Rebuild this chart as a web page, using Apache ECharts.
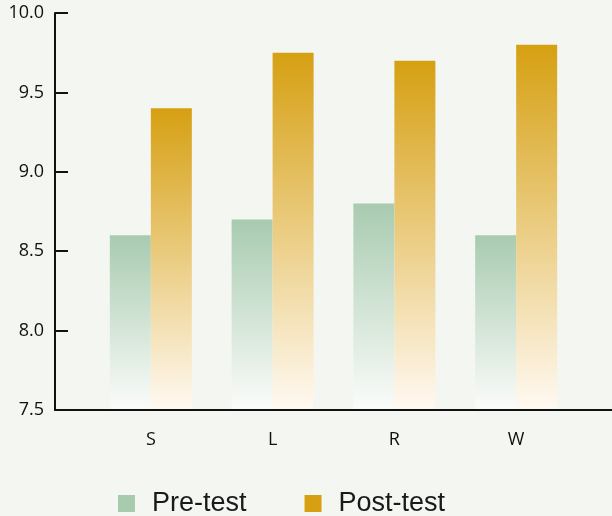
<!DOCTYPE html>
<html>
<head>
<meta charset="utf-8">
<script src="https://cdn.jsdelivr.net/npm/echarts@6/dist/echarts.min.js"></script>
<style>
  html, body { margin: 0; padding: 0; background: #f4f6f2; }
  #chart { width: 612px; height: 516px; }
</style>
</head>
<body>
<div id="chart"></div>
<script>
// Skill categories and average scores
const categories = ['S', 'L', 'R', 'W'];
const preTest = [8.6, 8.7, 8.8, 8.6];
const postTest = [9.4, 9.75, 9.7, 9.8];
const yTicks = [7.5, 8.0, 8.5, 9.0, 9.5, 10.0];

const chart = echarts.init(document.getElementById('chart'), null, { renderer: 'canvas' });

function grad(top, bottom) {
  return new echarts.graphic.LinearGradient(0, 0, 0, 1, [
    { offset: 0, color: top },
    { offset: 1, color: bottom }
  ]);
}

const catIndex = categories.map((c, i) => i);

chart.setOption({
  backgroundColor: '#f4f6f2',
  animation: false,
  grid: { left: 55, right: 0, top: 13, bottom: 106, outerBoundsMode: 'none' },
  legend: {
    left: 113,
    top: 485,
    icon: 'rect',
    itemWidth: 17,
    itemHeight: 17,
    itemGap: 58,
    textStyle: {
      fontFamily: 'Liberation Sans',
      fontSize: 27,
      color: '#1a1a1a',
      padding: [0, 0, 0, 12]
    },
    data: [
      { name: 'Pre-test', itemStyle: { color: '#a8cbb0' } },
      { name: 'Post-test', itemStyle: { color: '#d6a012' } }
    ]
  },
  xAxis: {
    type: 'value',
    z: 5,
    min: -0.787,
    max: categories.length - 1 + 0.787,
    splitLine: { show: false },
    axisLine: { show: true, onZero: false, lineStyle: { color: '#111', width: 2 } },
    axisTick: { show: false },
    axisLabel: {
      customValues: catIndex,
      formatter: v => categories[Math.round(v)] ?? '',
      fontFamily: 'Open Sans',
      fontSize: 18,
      color: '#111',
      margin: 21
    }
  },
  yAxis: {
    type: 'value',
    z: 5,
    min: yTicks[0],
    max: yTicks[yTicks.length - 1],
    interval: 0.5,
    splitLine: { show: false },
    axisLine: { show: true, onZero: false, lineStyle: { color: '#111', width: 2 } },
    axisTick: { show: true, inside: true, length: 13, lineStyle: { color: '#111', width: 2 } },
    axisLabel: {
      formatter: v => v.toFixed(1),
      fontFamily: 'Open Sans',
      fontSize: 18,
      color: '#111',
      margin: 11
    }
  },
  series: [
    {
      name: 'Pre-test',
      type: 'bar',
      barWidth: 41,
      barGap: '0%',
      data: preTest.map((v, i) => [i, v]),
      itemStyle: { color: grad('#a8cbb0', '#fbfcfa') }
    },
    {
      name: 'Post-test',
      type: 'bar',
      barWidth: 41,
      barGap: '0%',
      data: postTest.map((v, i) => [i, v]),
      itemStyle: { color: grad('#d6a012', '#fff9f2') }
    }
  ]
});
</script>
</body>
</html>
